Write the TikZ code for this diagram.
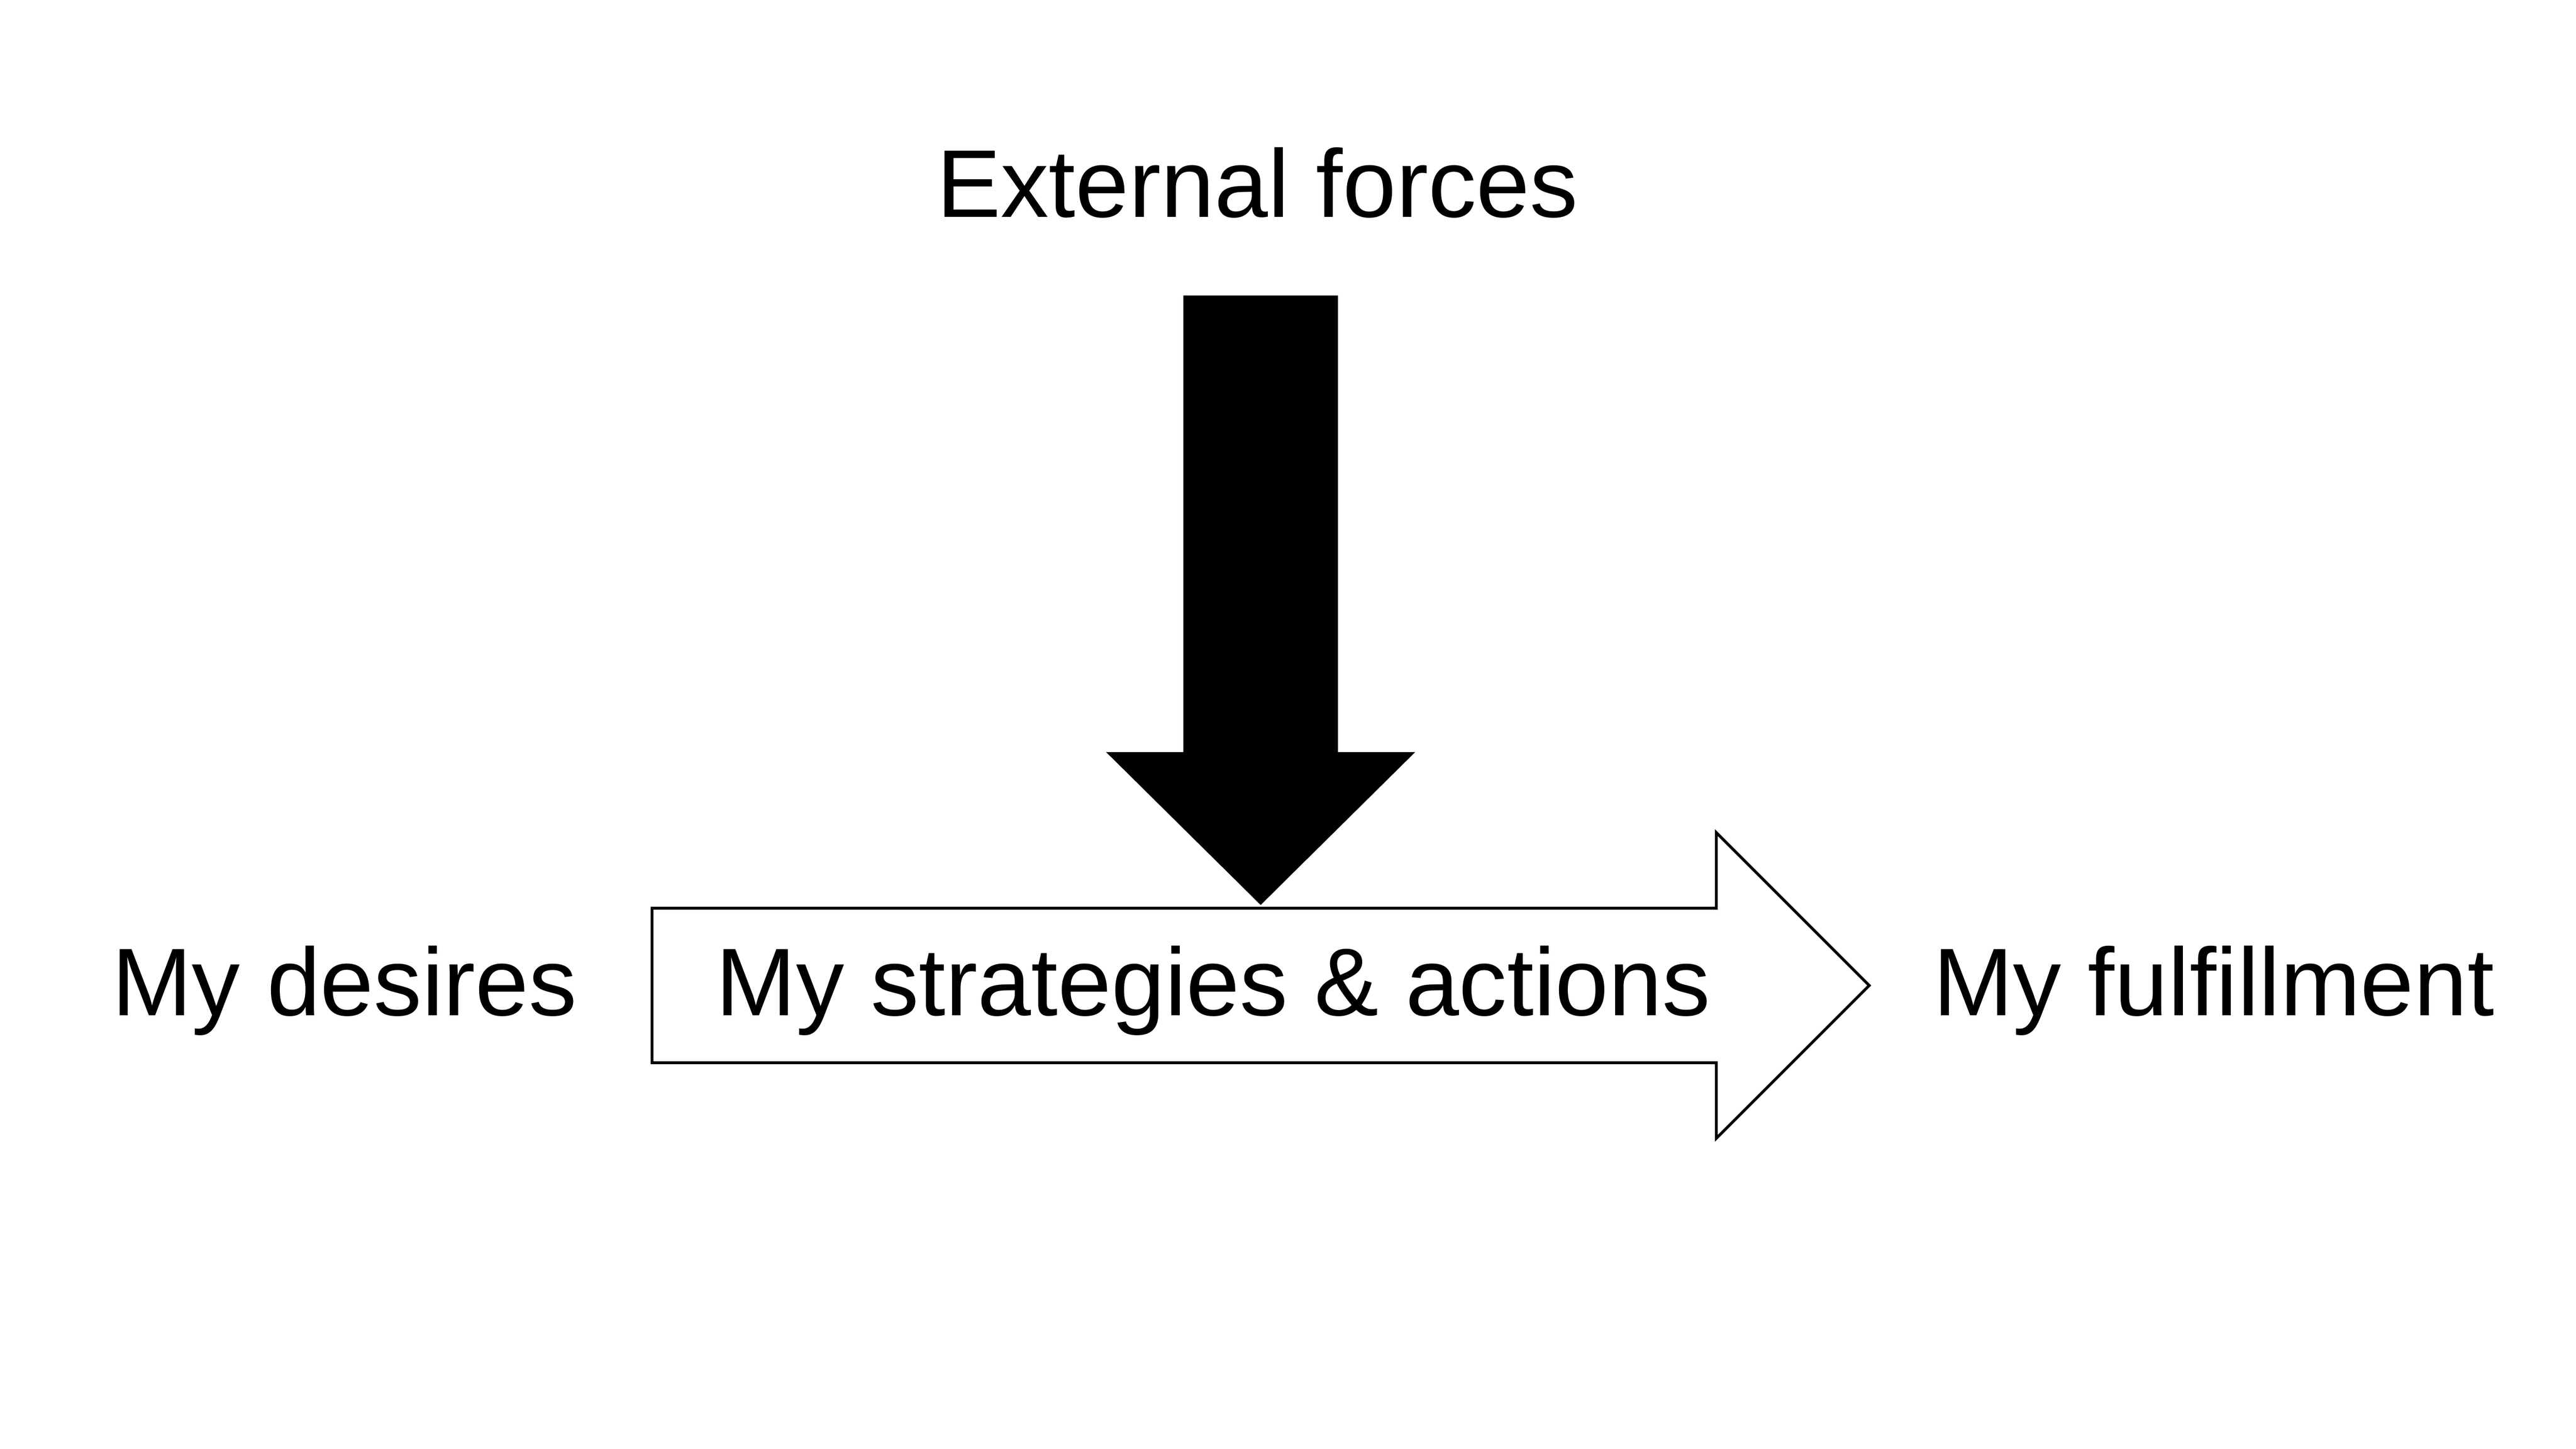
\documentclass[tikz,border=0pt]{standalone}
\usepackage{fontspec}
\setmainfont{Liberation Sans}
\usetikzlibrary{calc}

\begin{document}
\begin{tikzpicture}[txt/.style={font=\fontsize{17}{20}\selectfont, inner sep=0pt, anchor=base}]
\useasboundingbox (0,0) rectangle (16,9);
\coordinate (F) at (7.83,7.164);
\coordinate (T) at (7.83,3.378);
\coordinate (S) at (4.05,2.878);
\coordinate (P) at (11.61,2.878);

\fill ($(F)+(-0.48,0)$) -- ($(F)+(0.48,0)$) -- ($(T)+(0.48,0.95)$) -- ($(T)+(0.96,0.95)$) -- (T) -- ($(T)+(-0.96,0.95)$) -- ($(T)+(-0.48,0.95)$) -- cycle;
\draw[line width=0.5pt] ($(S)+(0,0.48)$) -- ($(P)+(-0.95,0.48)$) -- ($(P)+(-0.95,0.95)$) -- (P) -- ($(P)+(-0.95,-0.95)$) -- ($(P)+(-0.95,-0.48)$) -- ($(S)+(0,-0.48)$) -- cycle;

\node[txt] (forces) at (7.81,7.652) {External forces};
\node[txt] (desires) at (2.14,2.692) {My desires};
\node[txt] (actions) at (7.535,2.692) {My strategies \& actions};
\node[txt] (fulfil) at (13.75,2.692) {My fulfillment};
\end{tikzpicture}
\end{document}
